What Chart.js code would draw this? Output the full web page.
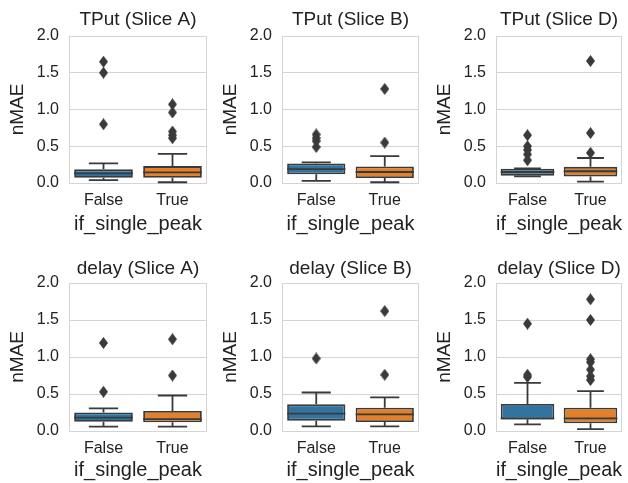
<!DOCTYPE html>
<html><head><meta charset="utf-8">
<script src="https://cdn.jsdelivr.net/npm/chart.js@4.4.0/dist/chart.umd.min.js"></script>
<style>
html,body{margin:0;padding:0;background:#fff;width:628px;height:483px;overflow:hidden;position:relative}
canvas{position:absolute}
</style></head><body>
<script>
// ---------- data ----------
const categories = ['False', 'True'];
const panelTitles = ['TPut (Slice A)', 'TPut (Slice B)', 'TPut (Slice D)',
                     'delay (Slice A)', 'delay (Slice B)', 'delay (Slice D)'];
const yTickValues = [0.0, 0.5, 1.0, 1.5, 2.0];
const yAxisTitle = 'nMAE';
const xAxisTitle = 'if_single_peak';
// per panel: [False, True]
const whiskerLow  = [[0.04, 0.01], [0.03, 0.01], [0.09, 0.02], [0.058, 0.058], [0.063, 0.063], [0.09, 0.025]];
const quartile1   = [[0.072, 0.07], [0.12, 0.068], [0.10, 0.09], [0.125, 0.117], [0.14, 0.12], [0.155, 0.105]];
const medians     = [[0.13, 0.145], [0.19, 0.15], [0.15, 0.16], [0.18, 0.16], [0.234, 0.225], [0.17, 0.17]];
const quartile3   = [[0.186, 0.23], [0.265, 0.225], [0.195, 0.22], [0.25, 0.27], [0.36, 0.315], [0.365, 0.315]];
const whiskerHigh = [[0.268, 0.395], [0.28, 0.365], [0.20, 0.34], [0.305, 0.48], [0.52, 0.455], [0.65, 0.54]];
const outliersFalse = [[1.65, 1.50, 0.80], [0.66, 0.61, 0.57, 0.49], [0.65, 0.50, 0.45, 0.39, 0.31],
                       [1.19, 0.53], [0.98], [1.45, 0.76, 0.73]];
const outliersTrue  = [[1.07, 0.96, 0.70, 0.65, 0.61], [1.28, 0.55], [1.66, 0.68, 0.41],
                       [1.24, 0.75], [1.62, 0.76], [1.78, 1.50, 0.97, 0.93, 0.83, 0.74, 0.69]];
const boxColors = ['#3274a1', '#e1812c'];

// ---------- style / layout ----------
const FONT = "'Liberation Sans', Arial, sans-serif";
const EDGE = '#3a3a3a';
const GRID = '#d4d4d4';
const TEXT = '#222222';
const colLeft = [0, 213, 427];
const colWidth = [213, 214, 201];
const colRightPad = [6, 8, 1];
const rowTop = [0, 240];
const rowHeight = [240, 243];
const rowTitlePad = [{top: 8, bottom: 5.2}, {top: 17, bottom: 3.2}];
const rowXAxisH = [57, 52];
const rowXTitlePad = [3.6, 1.0];

// thin diamond marker like seaborn's 'd'
const diamond = document.createElement('canvas');
diamond.width = 9; diamond.height = 12;
(function () {
  const c = diamond.getContext('2d');
  c.fillStyle = EDGE;
  c.beginPath();
  c.moveTo(4.5, 0); c.lineTo(9, 6); c.lineTo(4.5, 12); c.lineTo(0, 6); c.closePath();
  c.fill();
})();

const framePlugin = {
  id: 'frame',
  beforeDatasetsDraw(chart) {
    const a = chart.chartArea, ctx = chart.ctx;
    ctx.save();
    ctx.strokeStyle = GRID;
    ctx.lineWidth = 1;
    ctx.strokeRect(Math.round(a.left) + 0.5, Math.round(a.top) + 0.5,
                   Math.round(a.right - a.left) - 1, Math.round(a.bottom - a.top));
    ctx.restore();
  }
};

const whiskerPlugin = {
  id: 'whiskers',
  afterDatasetsDraw(chart) {
    const p = chart.options.plugins.whiskers.panel;
    const xs = chart.scales.x, ys = chart.scales.y, ctx = chart.ctx;
    const meta = chart.getDatasetMeta(0);
    ctx.save();
    ctx.strokeStyle = EDGE;
    ctx.lineWidth = 1.8;
    ctx.lineCap = 'butt';
    categories.forEach((cat, i) => {
      const x = xs.getPixelForValue(i);
      const bw = meta.data[i].width;
      const cap = bw / 4;
      const yLo = ys.getPixelForValue(whiskerLow[p][i]);
      const yQ1 = ys.getPixelForValue(quartile1[p][i]);
      const yQ3 = ys.getPixelForValue(quartile3[p][i]);
      const yHi = ys.getPixelForValue(whiskerHigh[p][i]);
      const yMed = ys.getPixelForValue(medians[p][i]);
      ctx.beginPath();
      ctx.moveTo(x, yQ1); ctx.lineTo(x, yLo);
      ctx.moveTo(x, yQ3); ctx.lineTo(x, yHi);
      ctx.moveTo(x - cap, yLo); ctx.lineTo(x + cap, yLo);
      ctx.moveTo(x - cap, yHi); ctx.lineTo(x + cap, yHi);
      ctx.moveTo(x - bw / 2, yMed); ctx.lineTo(x + bw / 2, yMed);
      ctx.stroke();
    });
    ctx.restore();
  }
};

for (let p = 0; p < 6; p++) {
  const row = Math.floor(p / 3), col = p % 3;
  const cv = document.createElement('canvas');
  cv.width = colWidth[col]; cv.height = rowHeight[row];
  cv.style.left = colLeft[col] + 'px'; cv.style.top = rowTop[row] + 'px';
  cv.style.width = colWidth[col] + 'px'; cv.style.height = rowHeight[row] + 'px';
  document.body.appendChild(cv);

  const outPts = [];
  outliersFalse[p].forEach(v => outPts.push({x: categories[0], y: v}));
  outliersTrue[p].forEach(v => outPts.push({x: categories[1], y: v}));

  new Chart(cv, {
    type: 'bar',
    data: {
      labels: categories,
      datasets: [{
        data: categories.map((c, i) => [quartile1[p][i], quartile3[p][i]]),
        backgroundColor: boxColors,
        borderColor: EDGE,
        borderWidth: 1.8,
        borderSkipped: false,
        barPercentage: 0.85,
        categoryPercentage: 1.0
      }, {
        type: 'scatter',
        data: outPts,
        pointStyle: diamond,
        pointRadius: 5
      }]
    },
    options: {
      responsive: false,
      animation: false,
      events: [],
      devicePixelRatio: 1,
      layout: {padding: {left: 0, right: colRightPad[col], top: 0, bottom: 0}},
      plugins: {
        legend: {display: false},
        tooltip: {enabled: false},
        title: {display: true, text: panelTitles[p], color: TEXT, fullSize: false,
                font: {family: FONT, size: 19, weight: 'normal'},
                padding: rowTitlePad[row]},
        whiskers: {panel: p}
      },
      scales: {
        x: {
          type: 'category',
          grid: {display: false, drawTicks: false},
          border: {display: false},
          ticks: {color: TEXT, font: {family: FONT, size: 16}, padding: 8},
          title: {display: true, text: xAxisTitle, color: TEXT,
                  font: {family: FONT, size: 20},
                  padding: {top: 0, bottom: rowXTitlePad[row]}},
          afterFit(s) { s.height = rowXAxisH[row]; }
        },
        y: {
          min: 0, max: 2,
          grid: {color: GRID, lineWidth: 1, drawTicks: false},
          border: {display: false},
          afterBuildTicks(s) { s.ticks = yTickValues.map(v => ({value: v})); },
          ticks: {color: TEXT, font: {family: FONT, size: 16}, padding: 10,
                  callback: v => Number(v).toFixed(1)},
          title: {display: true, text: yAxisTitle, color: TEXT,
                  font: {family: FONT, size: 19},
                  padding: {top: 6, bottom: 0}},
          afterFit(s) { s.width = 69; }
        }
      }
    },
    plugins: [framePlugin, whiskerPlugin]
  });
}
</script>
</body></html>
